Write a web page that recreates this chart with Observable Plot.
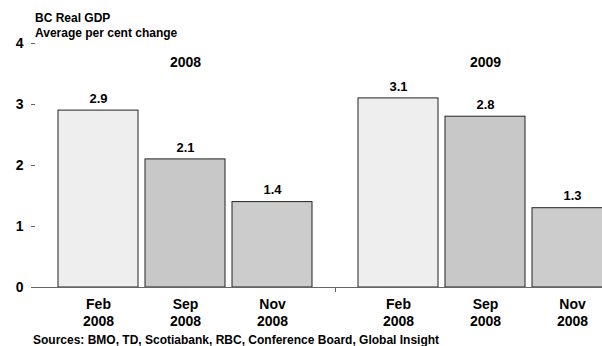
<!DOCTYPE html>
<html>
<head>
<meta charset="utf-8">
<script src="https://cdn.jsdelivr.net/npm/d3@7"></script>
<script src="https://cdn.jsdelivr.net/npm/@observablehq/plot@0.6"></script>
<style>
  html, body { margin: 0; padding: 0; background: #fff; overflow: hidden; }
  #wrap { position: relative; width: 602px; height: 346px; overflow: hidden; font-family: "Liberation Sans", Arial, sans-serif; }
  #title { position: absolute; left: 35px; top: 11px; font-weight: bold; font-size: 12px; line-height: 15px; color: #000; }
  #caption { position: absolute; left: 33px; top: 334px; font-weight: bold; font-size: 12px; line-height: 12px; color: #000; white-space: nowrap; }
  #chart { position: absolute; left: 0; top: 0; width: 640px; }
  #chart svg { max-width: none !important; }
</style>
</head>
<body>
<div id="wrap">
  <div id="chart"></div>
  <div id="title">BC Real GDP<br>Average per cent change</div>
  <div id="caption">Sources: BMO, TD, Scotiabank, RBC, Conference Board, Global Insight</div>
</div>
<script>
const years = ["2008", "2009"];
const releases = ["Feb\n2008", "Sep\n2008", "Nov\n2008"];
const forecast2008 = [2.9, 2.1, 1.4];
const forecast2009 = [3.1, 2.8, 1.3];
const yTicks = [0, 1, 2, 3, 4];
const barColors = ["#eeeeee", "#c8c8c8", "#cccccc"];

const data = [];
releases.forEach((r, i) => data.push({year: years[0], release: r, value: forecast2008[i]}));
releases.forEach((r, i) => data.push({year: years[1], release: r, value: forecast2009[i]}));

const font = "Liberation Sans, Arial, sans-serif";

const plot = Plot.plot({
  width: 640,
  height: 346,
  marginLeft: 35,
  marginRight: 5,
  marginTop: 43,
  marginBottom: 59,
  style: {fontFamily: font, color: "#000", background: "transparent", maxWidth: "none"},
  fx: {domain: years, padding: 0, axis: null},
  x: {domain: releases, paddingInner: 0.08, paddingOuter: 0.264, axis: null},
  y: {domain: [0, 4], axis: null},
  color: {domain: releases, range: barColors},
  marks: [
    Plot.barY(data, {fx: "year", x: "release", y: "value", fill: "release", stroke: "#222", strokeWidth: 1}),
    Plot.ruleY([0], {stroke: "#666", strokeWidth: 1}),
    Plot.axisY({ticks: yTicks, tickSize: 4, tickPadding: 8, fontSize: 14, fontWeight: "bold", stroke: "#666", fill: "#000", line: true, label: null, tickFormat: d => String(d)}),
    Plot.axisX({tickSize: 0, tickPadding: 10, fontSize: 14, fontWeight: "bold", lineHeight: 1.2, fill: "#000", label: null}),
    Plot.text(data, {fx: "year", x: "release", y: "value", text: d => d.value.toFixed(1), dy: -12, fontSize: 13, fontWeight: "bold", fill: "#000"}),
    Plot.text(years, {fx: d => d, text: d => d, frameAnchor: "top", lineAnchor: "middle", dy: 19, fontSize: 14, fontWeight: "bold", fill: "#000"})
  ]
});

// divider tick between the two category groups, placed with the fx and y scales
const fx = plot.scale("fx");
const ys = plot.scale("y");
const xDiv = fx.apply(years[1]);
const y0 = ys.apply(0);
d3.select(plot).append("line")
  .attr("x1", xDiv + 0.5).attr("x2", xDiv + 0.5)
  .attr("y1", y0).attr("y2", y0 + 5)
  .attr("stroke", "#666").attr("stroke-width", 1);

document.getElementById("chart").appendChild(plot);
</script>
</body>
</html>
